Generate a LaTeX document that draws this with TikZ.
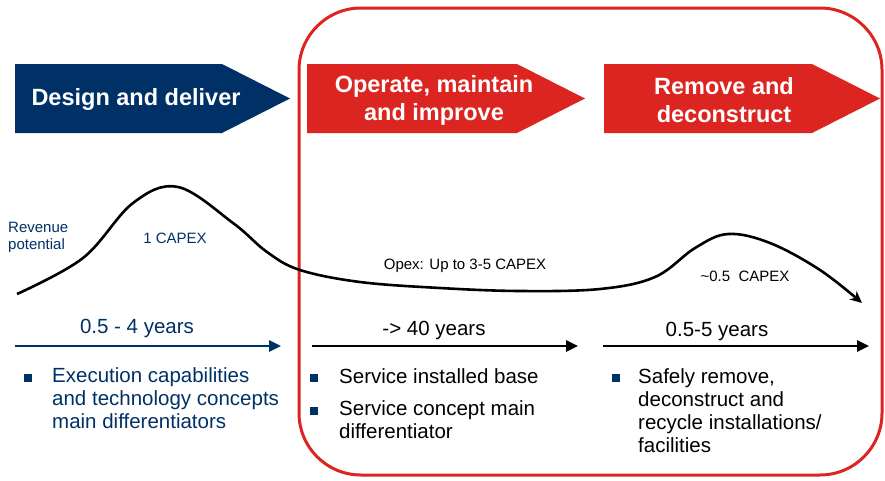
\documentclass[tikz,border=0pt]{standalone}
\usepackage{fontspec}
\setmainfont{Liberation Sans}
\usetikzlibrary{arrows.meta}
\definecolor{navy}{RGB}{0,49,102}
\definecolor{lcred}{RGB}{220,36,33}
\tikzset{
	hdrtxt/.style={text=white, font=\fontsize{23.5}{28}\selectfont\bfseries, align=center},
	yrarrow/.style={line width=2.6pt, -{Triangle[length=12pt,width=11pt]}},
	yrlabel/.style={font=\fontsize{20.5}{23}\selectfont},
	bul/.style={fill=navy, minimum size=7.5pt, inner sep=0pt},
	bultxt/.style={font=\fontsize{20.5}{23}\selectfont, align=left, anchor=north west, inner sep=0pt},
	smalltxt/.style={font=\fontsize{15}{17}\selectfont, inner sep=0pt}
}

\begin{document}
\begin{tikzpicture}[x=1pt,y=-1pt]
		%%%%% START %%%%%
		\useasboundingbox (0,0) rectangle (885,480);
		
		\draw[lcred, line width=3pt, rounded corners=62pt] (299,8) rectangle (882,475);
		
		% phase arrows
		\fill[navy] (15,64) -- (222,64) -- (290,98.5) -- (222,133) -- (15,133) -- cycle;
		\fill[lcred] (307,64) -- (517,64) -- (585,98.5) -- (517,133) -- (307,133) -- cycle;
		\fill[lcred] (604,64) -- (812,64) -- (880,98.5) -- (812,133) -- (604,133) -- cycle;
		\node[hdrtxt] (design) at (136,99) {Design and deliver};
		\node[hdrtxt] (operate) at (434,100) {Operate, maintain\\and improve};
		\node[hdrtxt] (remove) at (724,100) {Remove and\\deconstruct};
		
		% cost curve
		\draw[line width=2.6pt, -{Stealth[length=12pt,width=11pt]}] plot[smooth, tension=0.6] coordinates {
			(17,294) (83,258) (133,203) (178,187) (233,223) (267,252) (300,270)
			(360,282) (440,288) (520,291) (600,289) (655,277) (695,248) (728,234) (770,243) (820,270) (862,303)};
		\node[smalltxt, text=navy, align=left, anchor=west] (revenue) at (8,237) {Revenue\\potential};
		\node[smalltxt, text=navy] (capex) at (175,238) {1 CAPEX};
		\node[smalltxt] (opex) at (465,266) {Opex: Up to 3-5 CAPEX};
		\node[smalltxt] (endcapex) at (745,276) {\textasciitilde0.5\ \ CAPEX};
		
		% durations
		\coordinate (d1s) at (15,346);
		\coordinate (d1e) at (281,346);
		\coordinate (d2s) at (312,346);
		\coordinate (d2e) at (578,346);
		\coordinate (d3s) at (603,346);
		\coordinate (d3e) at (869,346);
		\draw[yrarrow, navy] (d1s) -- (d1e);
		\draw[yrarrow] (d2s) -- (d2e);
		\draw[yrarrow] (d3s) -- (d3e);
		\node[yrlabel, text=navy] (d1lab) at (137,328) {0.5 - 4 years};
		\node[yrlabel] (d2lab) at (434,330) {-> 40 years};
		\node[yrlabel] (d3lab) at (717,331) {0.5-5 years};
		
		% bullets
		\node[bul] (b1) at (28,378) {};
		\node[bultxt, text=navy] (t1) at (52,367) {Execution capabilities\\and technology concepts\\main differentiators};
		\node[bul] (b2) at (314,378) {};
		\node[bultxt] (t2) at (339,368) {Service installed base};
		\node[bul] (b3) at (314,411) {};
		\node[bultxt] (t3) at (339,400) {Service concept main\\differentiator};
		\node[bul] (b4) at (616,378) {};
		\node[bultxt] (t4) at (638,368) {Safely remove,\\deconstruct and\\recycle installations/\\facilities};
		
		%%%%% END %%%%%
	\end{tikzpicture}
\end{document}
